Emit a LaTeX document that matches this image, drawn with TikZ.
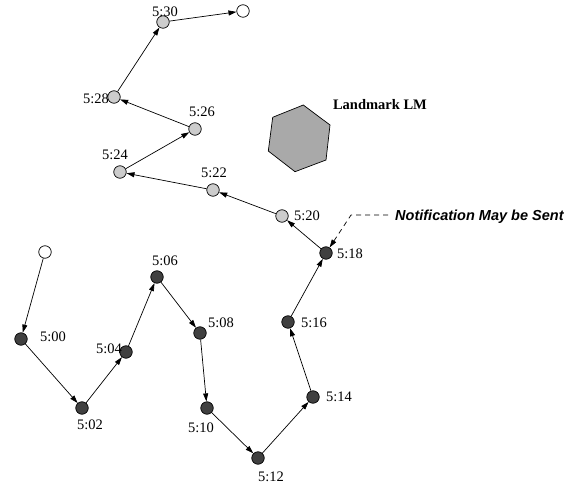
\documentclass[tikz,border=0pt]{standalone}
\usepackage{fontspec}
\setmainfont{Liberation Serif}
\setsansfont{Liberation Sans}
\usetikzlibrary{arrows.meta}
\definecolor{pastpt}{HTML}{404040}
\definecolor{futpt}{HTML}{CCCCCC}
\definecolor{lmfill}{HTML}{A9A9A9}
\tikzset{
  pt/.style={circle,draw=black,line width=0.7bp,minimum size=12.5bp,inner sep=0pt},
  past/.style={pt,fill=pastpt},
  future/.style={pt,fill=futpt},
  open/.style={pt,fill=white},
  tlabel/.style={inner sep=0pt,font=\fontsize{14.5bp}{17bp}\selectfont},
  move/.style={line width=0.7bp,-{Triangle[length=8bp,width=5bp]}},
  note/.style={line width=0.7bp,dash pattern=on 5bp off 4bp,-{Triangle[length=8bp,width=5bp]}}
}
\begin{document}
\begin{tikzpicture}[x=1bp,y=-1bp]
\useasboundingbox (0,0) rectangle (580,489);
% landmark
\filldraw[fill=lmfill,draw=black,line width=0.7bp]
  (272.7,117.3) -- (303.3,105) -- (330,125) -- (326,160) -- (295,171.7) -- (268.3,151) -- cycle;
\node[tlabel,font=\fontsize{14.5bp}{17bp}\selectfont\bfseries] (lm) at (380,105) {Landmark LM};
% track points
\node[open]   (s)   at (45,252) {};
\node[past]   (p00) at (21,339) {};
\node[past]   (p02) at (82,408) {};
\node[past]   (p04) at (126,352) {};
\node[past]   (p06) at (157,277) {};
\node[past]   (p08) at (200,333) {};
\node[past]   (p10) at (207,408) {};
\node[past]   (p12) at (258,458) {};
\node[past]   (p14) at (313,397) {};
\node[past]   (p16) at (288,322) {};
\node[past]   (p18) at (326,253) {};
\node[future] (p20) at (282,216) {};
\node[future] (p22) at (213,190) {};
\node[future] (p24) at (120,172) {};
\node[future] (p26) at (195,129) {};
\node[future] (p28) at (114,97) {};
\node[future] (p30) at (163,22) {};
\node[open]   (e)   at (243,11) {};
% time labels
\node[tlabel] (l00) at (53,337) {5:00};
\node[tlabel] (l02) at (90,425) {5:02};
\node[tlabel] (l04) at (109,349) {5:04};
\node[tlabel] (l06) at (165,261) {5:06};
\node[tlabel] (l08) at (221,323) {5:08};
\node[tlabel] (l10) at (201,428) {5:10};
\node[tlabel] (l12) at (271,477) {5:12};
\node[tlabel] (l14) at (339,397) {5:14};
\node[tlabel] (l16) at (314,323) {5:16};
\node[tlabel] (l18) at (350,254) {5:18};
\node[tlabel] (l20) at (307,216) {5:20};
\node[tlabel] (l22) at (214,173) {5:22};
\node[tlabel] (l24) at (115,155) {5:24};
\node[tlabel] (l26) at (202,112) {5:26};
\node[tlabel] (l28) at (96,99) {5:28};
\node[tlabel] (l30) at (165,12) {5:30};
% movement
\draw[move] (s) -- (p00);
\draw[move] (p00) -- (p02);
\draw[move] (p02) -- (p04);
\draw[move] (p04) -- (p06);
\draw[move] (p06) -- (p08);
\draw[move] (p08) -- (p10);
\draw[move] (p10) -- (p12);
\draw[move] (p12) -- (p14);
\draw[move] (p14) -- (p16);
\draw[move] (p16) -- (p18);
\draw[move] (p18) -- (p20);
\draw[move] (p20) -- (p22);
\draw[move] (p22) -- (p24);
\draw[move] (p24) -- (p26);
\draw[move] (p26) -- (p28);
\draw[move] (p28) -- (p30);
\draw[move] (p30) -- (e);
% notification callout
\node[anchor=west,inner sep=0pt,font=\sffamily\bfseries\itshape\fontsize{14.5bp}{17bp}\selectfont] (msg) at (395,217) {Notification May be Sent};
\coordinate (bend) at (351,215);
\draw[note] (msg.west) ++(-7,-2) -- (bend) -- (p18);
\end{tikzpicture}
\end{document}
